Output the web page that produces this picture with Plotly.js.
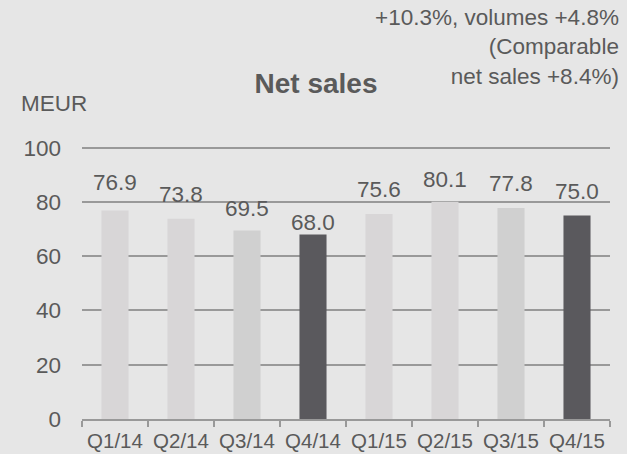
<!DOCTYPE html>
<html>
<head>
<meta charset="utf-8">
<script src="https://cdn.plot.ly/plotly-3.0.1.min.js"></script>
<style>
  html, body { margin: 0; padding: 0; background: #e6e6e6; }
  #chart { width: 627px; height: 454px; }
</style>
</head>
<body>
<div id="chart"></div>
<script>
// ---- data ----
const quarters = ["Q1/14", "Q2/14", "Q3/14", "Q4/14", "Q1/15", "Q2/15", "Q3/15", "Q4/15"];
const netSales = [76.9, 73.8, 69.5, 68.0, 75.6, 80.1, 77.8, 75.0];
const valueLabels = ["76.9", "73.8", "69.5", "68.0", "75.6", "80.1", "77.8", "75.0"];
const yTickValues = [0, 20, 40, 60, 80, 100];
const chartTitle = "Net sales";
const unitLabel = "MEUR";
const noteText = "+10.3%, volumes +4.8%<br>(Comparable<br>net sales +8.4%)";

// ---- styles ----
const barColors = ["#d8d6d7", "#d8d6d7", "#d0d0d0", "#5a595d", "#d8d6d7", "#d8d6d7", "#d0d0d0", "#5a595d"];
const labelNudge = [3, 0, -3, -12, 0, -2, 0, 0]; // pixel nudges for label placement
const textColor = "#5a5a5a";
const fontFamily = "Liberation Sans, Arial, sans-serif";

const trace = {
  type: "bar",
  x: quarters,
  y: netSales,
  marker: { color: barColors },
  width: 0.41,
  hoverinfo: "skip"
};

const annotations = quarters.map((q, i) => ({
  x: q, y: netSales[i], xref: "x", yref: "y",
  text: valueLabels[i],
  showarrow: false,
  yanchor: "bottom",
  yshift: 10 + labelNudge[i],
  font: { family: fontFamily, size: 22.5, color: textColor }
}));

annotations.push({
  xref: "paper", yref: "paper", x: -0.12, y: 1.1515,
  xanchor: "left", yanchor: "middle",
  text: unitLabel, showarrow: false,
  font: { family: fontFamily, size: 22.5, color: textColor }
});
annotations.push({
  xref: "paper", yref: "paper", x: 1.02, y: 1.3577,
  xanchor: "right", yanchor: "middle", align: "right",
  text: noteText, showarrow: false,
  font: { family: fontFamily, size: 22.5, color: textColor }
});

const layout = {
  width: 627, height: 454,
  paper_bgcolor: "#e6e6e6",
  plot_bgcolor: "#e6e6e6",
  margin: { l: 82, r: 17, t: 145, b: 35 },
  showlegend: false,
  title: {
    text: "<b>" + chartTitle + "</b>",
    xref: "container", yref: "container",
    x: 0.504, xanchor: "center",
    y: 0.817, yanchor: "middle",
    font: { family: fontFamily, size: 28, color: textColor }
  },
  xaxis: {
    type: "category",
    showline: true, linecolor: "#999999", linewidth: 2,
    ticks: "outside", tickson: "boundaries", ticklen: 6, tickwidth: 1.5, tickcolor: "#999999",
    showgrid: false,
    ticklabelstandoff: 2,
    tickfont: { family: fontFamily, size: 20.5, color: textColor },
    fixedrange: true
  },
  yaxis: {
    range: [0, 101],
    tickvals: yTickValues,
    showgrid: true, gridcolor: "#999999", gridwidth: 2,
    zeroline: false, showline: false, ticks: "",
    ticklabelstandoff: 20,
    tickfont: { family: fontFamily, size: 22.5, color: textColor },
    fixedrange: true
  },
  bargap: 0.59,
  annotations: annotations
};

Plotly.newPlot("chart", [trace], layout, { displayModeBar: false, staticPlot: true });
</script>
</body>
</html>
